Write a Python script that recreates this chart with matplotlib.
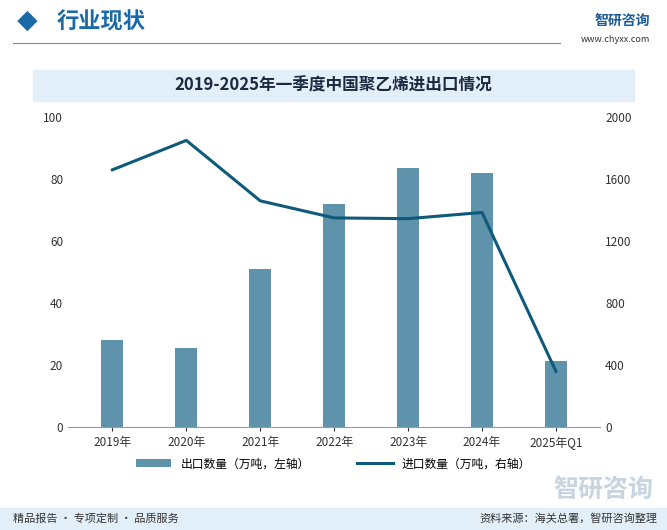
import matplotlib.pyplot as plt
from matplotlib.patches import Rectangle
import numpy as np

plt.rcParams['font.family'] = ['Noto Sans CJK SC', 'DejaVu Sans']

years = ['2019年', '2020年', '2021年', '2022年', '2023年', '2024年', '2025年Q1']
export_qty = [28, 25.5, 51, 72, 83.5, 82, 21.5]          # 万吨, left axis
import_qty = [1660, 1850, 1460, 1350, 1345, 1385, 360]   # 万吨, right axis

bar_color = '#5e93ab'
line_color = '#0f5a7a'

fig = plt.figure(figsize=(6.67, 5.3), dpi=100)

# header
fig.text(0.025, 0.958, '◆', color='#1a6aa8', fontsize=15, va='center')
fig.text(0.085, 0.958, '行业现状', color='#1a6aa8', fontsize=16, weight='bold', va='center')
fig.add_artist(plt.Line2D([0.02, 0.84], [0.918, 0.918], color='#6a8fb0', lw=0.8))
fig.text(0.975, 0.96, '智研咨询', color='#1a5a96', fontsize=10, weight='bold', ha='right', va='center')
fig.text(0.975, 0.925, 'www.chyxx.com', color='#333333', fontsize=6.5, ha='right', va='center')

# title band
fig.add_artist(Rectangle((0.05, 0.81), 0.90, 0.058, transform=fig.transFigure,
                         color='#e3eff8', zorder=0))
fig.text(0.5, 0.839, '2019-2025年一季度中国聚乙烯进出口情况', ha='center', va='center',
         fontsize=12, weight='bold', color='#1a2a40')

ax = fig.add_axes([0.102, 0.194, 0.798, 0.585])
x = np.arange(len(years))
ax.bar(x, export_qty, width=0.3, color=bar_color, label='出口数量（万吨，左轴）')
ax.set_ylim(0, 100)
ax.set_yticks(range(0, 101, 20))
ax.set_xticks(x)
ax.set_xticklabels(years)
ax.set_xlim(-0.6, len(years) - 0.4)
for s in ['top', 'right', 'left']:
    ax.spines[s].set_visible(False)
ax.spines['bottom'].set_color('#999999')
ax.tick_params(axis='y', length=0, labelsize=8.5, colors='#333333')
ax.tick_params(axis='x', length=3, labelsize=8.5, colors='#333333')

ax2 = ax.twinx()
ax2.plot(x, import_qty, color=line_color, lw=2.2, label='进口数量（万吨，右轴）')
ax2.set_ylim(0, 2000)
ax2.set_yticks(range(0, 2001, 400))
for s in ['top', 'right', 'left', 'bottom']:
    ax2.spines[s].set_visible(False)
ax2.tick_params(axis='y', length=0, labelsize=8.5, colors='#333333')

h1, l1 = ax.get_legend_handles_labels()
h2, l2 = ax2.get_legend_handles_labels()
fig.legend(h1 + h2, l1 + l2, loc='center', bbox_to_anchor=(0.5, 0.125), ncol=2,
           frameon=False, fontsize=8.5, handlelength=3, columnspacing=4)

# footer
fig.add_artist(Rectangle((0, 0), 1, 0.042, transform=fig.transFigure,
                         color='#e3eff8', zorder=0))
fig.text(0.02, 0.021, '精品报告 · 专项定制 · 品质服务', fontsize=8, va='center', color='#333333')
fig.text(0.985, 0.021, '资料来源：海关总署，智研咨询整理', fontsize=8, va='center',
         ha='right', color='#333333')
fig.text(0.98, 0.075, '智研咨询', fontsize=18, weight='bold', color='#c8d4e0', ha='right', va='center')

fig.savefig('out.png', dpi=100)
